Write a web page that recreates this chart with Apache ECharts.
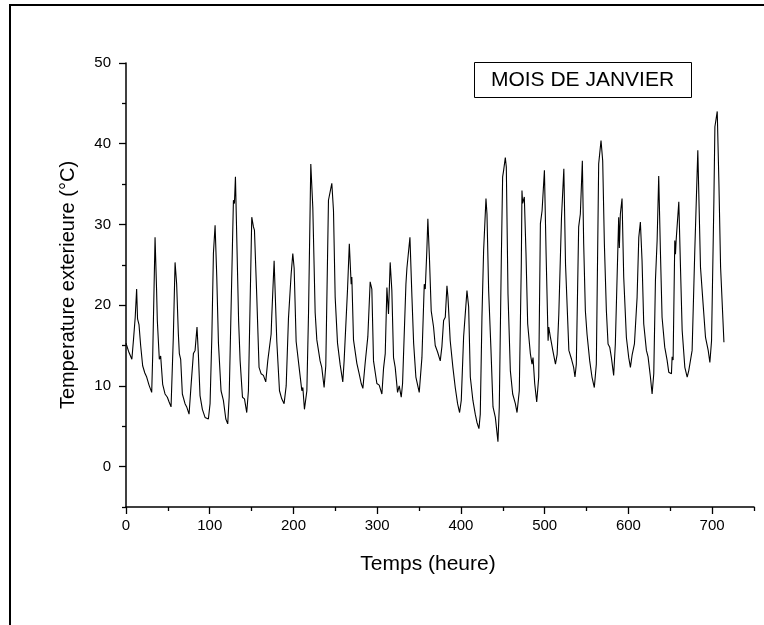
<!DOCTYPE html>
<html><head><meta charset="utf-8">
<script src="https://cdn.jsdelivr.net/npm/echarts@6/dist/echarts.min.js"></script>
<style>html,body{margin:0;padding:0;background:#fff}#c{width:764px;height:625px}</style>
</head><body><div id="c"></div>
<script>
// Hours (x) and exterior temperature (°C)
const hours = [
  0,3,7,9,11,12.7,13.8,15.5,17.5,19.9,22.5,24.7,27.5,30.7,
  31.9,34.7,36.5,37.4,39.8,41.4,43.8,46.6,49.4,51.5,53.8,
  56.5,58.6,60.5,62.5,63.7,65.3,67.3,70.5,72.5,75.3,
  78,80.5,82.5,84.8,86.4,88.4,91.2,94.4,98.4,
  100.4,102.5,104.4,106.4,108.4,110.4,113.5,116.3,119.2,121.5,
  123.2,124.3,127.1,128.3,129.5,130.7,132.7,134.5,136.3,139.1,141.5,144.2,
  146.2,147.4,150.2,152.2,153.4,156.2,158.9,161.4,164.1,166.9,
  169.3,173.3,174.1,176.9,177.7,180.1,183.3,186.0,188.8,
  191.3,194.0,197.2,199.2,200.8,203.2,207.2,210.0,211.2,213.1,
  216.0,218.0,220.7,223.1,225.9,227.9,231.8,233.8,236.6,
  238.6,241.8,243.8,245.8,247.8,249.8,252.6,255.8,258.9,
  260.5,264.5,266.7,268.9,269.7,271.7,275.7,278.5,280.9,282.9,
  285.6,288.8,291.6,293.6,295.6,299.6,302.4,305.6,
  307.6,309.6,311.6,313.5,315.5,317.5,319.5,321.5,324.3,326.3,328.7,
  330.3,331.5,334.3,335.5,339.1,341.5,343.5,346.2,350.2,
  353.4,356.2,357.4,359.3,360.5,362.5,364.5,367.3,369.3,372.1,375.3,
  377.3,379.3,381.3,383.3,384.5,385.3,387.2,390.4,393.2,396.0,398.4,
  400.4,403.2,407.2,409.2,411.2,414.3,417.1,419.1,421.5,
  423.1,425.1,427.1,429.9,431.1,433.1,435.9,438.3,441.1,444.2,
  445.8,448.2,449.8,451.0,453.0,454.2,456.2,459.0,461.8,465.0,467.0,
  469.7,472.1,472.9,473.7,475.7,477.7,479.7,482.9,484.9,486.1,488.1,490.5,
  492.9,494.9,496.9,499.7,501.7,504.1,504.9,506.9,509.7,512.9,
  514.9,516.9,520.1,522.9,524.9,528.9,532.1,534.6,536.2,
  537.8,540.6,542.6,545.0,546.6,548.6,550.6,553.8,556.5,559.3,
  561.7,564.5,567.3,569.3,571.3,573.7,575.7,577.7,579.7,582.4,
  584.4,588.4,589.2,590.4,592.4,594.4,597.6,600.4,602.4,
  604.4,607.2,610.4,612.4,614.3,616.3,618.3,621.5,623.5,626.3,628.3,
  630.3,632.3,634.3,636.2,638.2,640.2,643.4,646.2,648.2,651.4,
  652.2,653.4,655.4,656.2,657.0,660.2,662.2,664.2,667.4,670.2,
  672.1,674.1,676.1,679.3,682.9,686.1,688.9,692.1,695.3,697.3,
  699.3,702.1,703.3,706.1,708.1,710.1,714.1
];
const temps = [
  15.3,14.3,13.3,15.8,18.5,22.0,18.3,17.6,15.0,12.5,11.6,11.1,10.1,9.2,
  13.8,28.4,22.0,18.1,13.3,13.7,10.2,9.0,8.6,8.0,7.4,
  16.0,25.3,22.6,16.5,14.0,13.3,9.0,7.8,7.4,6.5,
  10.5,14.0,14.4,17.3,14.0,8.8,7.1,6.1,5.9,
  7.8,16.0,26.4,29.9,23.5,15.3,9.4,8.2,5.9,5.3,
  8.6,8.6,27.3,33.0,32.6,35.9,26.4,18.0,13.1,8.6,8.4,6.7,
  9.4,9.4,30.9,29.7,29.3,21.0,12.3,11.5,11.3,10.5,
  13.1,16.4,18.7,25.5,25.3,15.5,9.4,8.4,7.8,
  10.0,18.3,23.8,26.4,24.6,15.5,11.9,9.4,9.8,7.1,
  9.4,19.1,37.5,32.1,19.1,15.7,13.1,12.3,9.8,
  12.5,33.0,33.2,35.1,31.7,21.0,15.3,12.6,10.5,
  13.1,21.8,27.6,22.6,23.5,15.7,12.8,11.5,10.3,9.7,
  12.8,16.1,22.9,22.0,13.1,10.3,10.1,9.0,
  12.2,14.0,22.2,18.9,25.3,21.8,13.5,12.3,9.2,10.0,8.6,
  10.3,10.3,22.6,24.6,28.4,21.0,15.3,11.1,9.2,
  13.5,22.6,22.0,26.8,30.7,25.5,19.3,17.3,15.0,14.2,13.1,
  14.9,18.1,18.5,22.4,21.0,21.2,15.6,12.3,9.8,7.8,6.7,
  8.2,16.1,21.8,19.8,11.1,8.2,6.5,5.5,4.7,
  6.5,18.5,26.8,33.2,31.3,21.8,14.4,7.4,6.1,3.1,
  7.4,25.5,35.9,36.7,38.3,37.1,21.4,11.9,9.0,7.8,6.7,
  9.4,25.1,34.2,32.6,33.4,26.4,17.7,14.0,12.7,13.5,10.3,8.0,
  11.1,30.1,31.7,36.7,26.4,15.6,17.3,16.0,14.4,12.7,
  13.9,18.9,30.9,36.9,25.1,14.4,13.3,12.3,11.1,
  12.7,29.7,31.3,37.9,27.6,19.3,16.4,13.1,11.1,9.8,
  12.7,37.5,40.4,37.9,27.6,19.3,15.2,14.8,13.5,11.3,
  15.2,30.9,27.1,31.3,33.2,23.5,16.0,13.5,12.3,
  13.8,15.2,21.0,28.4,30.3,25.5,17.7,14.4,13.6,11.1,9.0,
  11.5,23.1,28.0,36.0,26.8,18.5,14.8,13.2,11.7,11.5,
  13.6,13.2,28.0,26.3,28.0,32.8,24.7,16.9,12.3,11.1,
  11.9,12.1,14.4,26.8,39.2,24.7,20.6,16.0,14.4,12.9,
  15.6,33.0,42.1,44.0,35.1,24.7,15.4
];
const xMajorTicks = [0,100,200,300,400,500,600,700];
const xMinorTicks = [50,150,250,350,450,550,650,750];
const yMajorTicks = [0,10,20,30,40,50];
const yMinorTicks = [-5,5,15,25,35,45];
const xTitle = 'Temps (heure)';
const yTitle = 'Temperature exterieure (°C)';
const boxLabel = 'MOIS DE JANVIER';

const font = 'Arial, "Liberation Sans", Helvetica, sans-serif';
const seriesData = hours.map((h, i) => [h, temps[i]]);

const chart = echarts.init(document.getElementById('c'), null, {renderer: 'canvas'});
const axisLineStyle = {color: '#000', width: 1.5};
const option = {
  animation: false,
  backgroundColor: '#fff',
  grid: {left: 126, right: 10, top: 63, bottom: 118, containLabel: false},
  xAxis: [
    {
      type: 'value', min: 0, max: 750, position: 'bottom', offset: 0,
      name: xTitle, nameLocation: 'middle', nameGap: 47,
      nameTextStyle: {fontSize: 21, color: '#000', fontFamily: font, padding: [0, 24, 0, 0]},
      axisLine: {show: true, onZero: false, lineStyle: axisLineStyle},
      axisTick: {show: true, inside: false, length: 7, customValues: xMajorTicks, lineStyle: {color: '#000', width: 1.3}},
      axisLabel: {show: true, customValues: xMajorTicks, fontSize: 15, color: '#000', margin: 11, fontFamily: font},
      splitLine: {show: false}
    },
    {
      type: 'value', min: 0, max: 750, position: 'bottom', offset: 0,
      axisLine: {show: false, onZero: false},
      axisTick: {show: true, inside: false, length: 4, customValues: xMinorTicks, lineStyle: {color: '#000', width: 1.3}},
      axisLabel: {show: false},
      splitLine: {show: false}
    }
  ],
  yAxis: [
    {
      type: 'value', min: -5, max: 50, position: 'left', offset: 0,
      name: yTitle, nameLocation: 'middle', nameGap: 48,
      nameTextStyle: {fontSize: 20, color: '#000', fontFamily: font},
      axisLine: {show: true, onZero: false, lineStyle: axisLineStyle},
      axisTick: {show: true, inside: false, length: 7, customValues: yMajorTicks, lineStyle: {color: '#000', width: 1.3}},
      axisLabel: {show: true, customValues: yMajorTicks, fontSize: 15, color: '#000', margin: 15, fontFamily: font},
      splitLine: {show: false}
    },
    {
      type: 'value', min: -5, max: 50, position: 'left', offset: 0,
      axisLine: {show: false, onZero: false},
      axisTick: {show: true, inside: false, length: 4, customValues: yMinorTicks, lineStyle: {color: '#000', width: 1.3}},
      axisLabel: {show: false},
      splitLine: {show: false}
    }
  ],
  series: [{
    type: 'line', xAxisIndex: 0, yAxisIndex: 0,
    data: seriesData, showSymbol: false, symbol: 'none', smooth: false,
    lineStyle: {color: '#000', width: 1.1}
  }],
  graphic: [
    {type: 'line', shape: {x1: 9, y1: 5, x2: 764, y2: 5}, style: {stroke: '#000', lineWidth: 2}},
    {type: 'line', shape: {x1: 10, y1: 4, x2: 10, y2: 625}, style: {stroke: '#000', lineWidth: 2}},
    {type: 'rect', shape: {x: 474.5, y: 62.5, width: 217, height: 35}, style: {fill: '#fff', stroke: '#000', lineWidth: 1}},
    {type: 'text', x: 582.5, y: 80, style: {text: boxLabel, fontSize: 21, fontFamily: font, fill: '#000', align: 'center', verticalAlign: 'middle'}}
  ]
};
chart.setOption(option);
</script>
</body></html>
